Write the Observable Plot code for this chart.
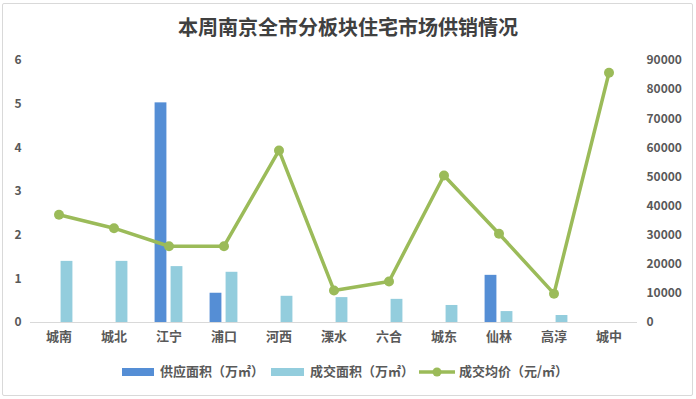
<!DOCTYPE html>
<html><head><meta charset="utf-8">
<script src="https://cdn.jsdelivr.net/npm/d3@7"></script>
<script src="https://cdn.jsdelivr.net/npm/@observablehq/plot@0.6"></script>
<style>
body{margin:0;background:#fff;font-family:"Noto Sans CJK SC","Noto Sans",sans-serif;}
#wrap{position:relative;width:696px;height:399px;overflow:hidden;}
#frame{position:absolute;left:2px;top:3px;width:691px;height:393px;border:1px solid #d9d9d9;box-sizing:border-box;border-radius:2px;}
#title{position:absolute;left:0;top:14px;width:696px;text-align:center;font-size:20px;line-height:26px;font-weight:bold;color:#404040;}
#chart{position:absolute;left:0;top:45px;}
.lg{position:absolute;top:362px;font-size:13px;line-height:18px;color:#595959;font-weight:bold;white-space:nowrap;}
.sw{position:absolute;top:368px;height:8px;}
</style></head>
<body><div id="wrap">
<div id="frame"></div>
<div id="title">本周南京全市分板块住宅市场供销情况</div>
<div id="chart"></div>
<div class="sw" style="left:122px;width:32px;background:#558ED5"></div>
<div class="lg" style="left:160px">供应面积（万㎡）</div>
<div class="sw" style="left:271px;width:33px;background:#93CDDD"></div>
<div class="lg" style="left:310px">成交面积（万㎡）</div>
<svg style="position:absolute;left:418px;top:364px" width="38" height="16"><line x1="1" y1="8" x2="37" y2="8" stroke="#9BBB59" stroke-width="3.5"/><circle cx="19" cy="8" r="4.5" fill="#9BBB59"/></svg>
<div class="lg" style="left:459px">成交均价（元/㎡）</div>
</div>
<script>
const districts = ["城南","城北","江宁","浦口","河西","溧水","六合","城东","仙林","高淳","城中"];
const supplyArea = [null,null,5.03,0.67,null,null,null,null,1.08,null,null];
const dealArea = [1.40,1.40,1.28,1.15,0.60,0.57,0.53,0.39,0.25,0.16,null];
const avgPrice = [37000,32400,26200,26200,59100,11000,14100,50500,30500,9900,85800];
const leftTicks = [0,1,2,3,4,5,6];
const rightTicks = [0,10000,20000,30000,40000,50000,60000,70000,80000,90000];
const priceStep = 15000; // right axis 0..90000 aligned with left 0..6

const rows = districts.map((d,i)=>({d, supply:supplyArea[i], deal:dealArea[i], price:avgPrice[i]}));
const W = 696, mL = 30, mR = 59;
const bw = (W - mL - mR) / districts.length;

const chart = Plot.plot({
  width: W, height: 307,
  marginLeft: mL, marginRight: mR, marginTop: 15, marginBottom: 30,
  style: {color:"#595959", fontFamily:"'Noto Sans CJK SC','Noto Sans',sans-serif", fontSize:"12px", background:"transparent"},
  x: {domain: districts, padding: 0, axis: null},
  y: {domain: [0,6], axis: null},
  marks: [
    Plot.barY(rows.filter(r=>r.supply!=null), {x:"d", y:"supply", fill:"#558ED5", insetLeft: bw/2-14, insetRight: bw/2+2}),
    Plot.barY(rows.filter(r=>r.deal!=null), {x:"d", y:"deal", fill:"#93CDDD", insetLeft: bw/2+2, insetRight: bw/2-14}),
    Plot.ruleY([0], {stroke:"#d9d9d9", strokeWidth:1}),
    Plot.line(rows, {x:"d", y: r=>r.price/priceStep, stroke:"#9BBB59", strokeWidth:3.5}),
    Plot.dot(rows, {x:"d", y: r=>r.price/priceStep, r:5, fill:"#9BBB59"}),
    Plot.axisX({tickSize:0, tickPadding:9, fontSize:13, fontWeight:"bold", label:null}),
    Plot.axisY(leftTicks, {anchor:"left", tickSize:0, tickPadding:9, fontWeight:"bold", tickFormat: d=>String(d), label:null}),
    Plot.axisY(rightTicks.map(v=>v/priceStep), {anchor:"right", tickSize:0, tickPadding:9, fontWeight:"bold", tickFormat: d=>String(Math.round(d*priceStep)), label:null})
  ]
});
document.getElementById("chart").appendChild(chart);
</script>
</body></html>
